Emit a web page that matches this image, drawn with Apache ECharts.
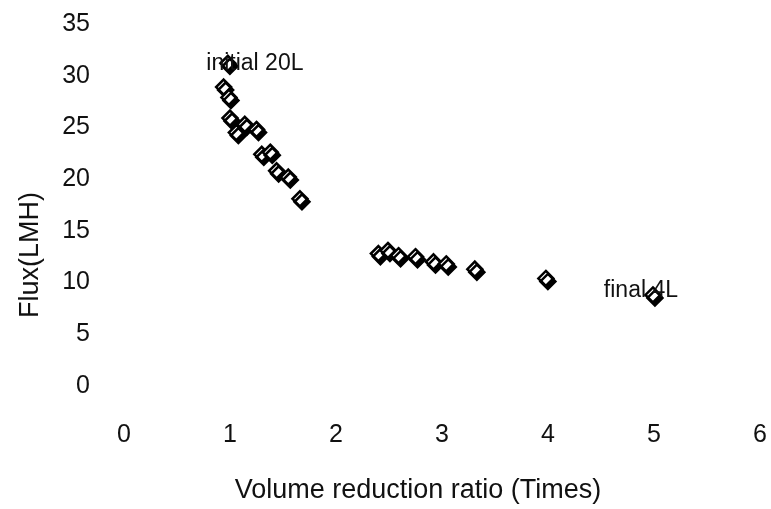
<!DOCTYPE html>
<html>
<head>
<meta charset="utf-8">
<script src="https://cdn.jsdelivr.net/npm/echarts@6/dist/echarts.min.js"></script>
<style>
  html, body { margin: 0; padding: 0; background: #fff; }
  #chart { width: 771px; height: 509px; }
</style>
</head>
<body>
<div id="chart"></div>
<script>
// volume reduction ratio (x) and flux (y)
const ratio = [0.98, 0.94, 0.99, 1.0, 1.06, 1.14, 1.25, 1.30, 1.38, 1.44, 1.55, 1.66,
  2.40, 2.49, 2.59, 2.75, 2.92, 3.04, 3.31, 3.98, 4.99];
const flux = [31.2, 28.9, 27.9, 25.9, 24.5, 25.3, 24.8, 22.4, 22.6, 20.8, 20.2, 18.1,
  12.8, 13.1, 12.6, 12.5, 12.0, 11.8, 11.3, 10.4, 8.8];
// point labels: index -> text
const pointNotes = { 0: "initial 20L", 20: "final 4L" };

const font = "Liberation Sans, Arial, sans-serif";

const data = ratio.map(function (x, i) {
  const item = { value: [x, flux[i]] };
  if (i === 0) {
    item.label = { show: true, formatter: pointNotes[0], position: "inside", offset: [27, 0] };
  } else if (i === 20) {
    item.label = { show: true, formatter: pointNotes[20], position: "inside", offset: [-12, -4] };
  }
  return item;
});

const chart = echarts.init(document.getElementById("chart"));
chart.setOption({
  animation: false,
  grid: { left: 124, right: 11, top: 24, bottom: 121 },
  xAxis: {
    type: "value",
    min: 0, max: 6, interval: 1,
    name: "Volume reduction ratio (Times)",
    nameLocation: "middle",
    nameGap: 91,
    nameTextStyle: { color: "#111", fontSize: 27, fontFamily: font, padding: [0, 48, 0, 0] },
    axisLine: { show: false },
    axisTick: { show: false },
    splitLine: { show: false },
    axisLabel: { color: "#111", fontSize: 25, fontFamily: font, margin: 37 }
  },
  yAxis: {
    type: "value",
    min: 0, max: 35, interval: 5,
    name: "Flux(LMH)",
    nameLocation: "middle",
    nameGap: 80,
    nameTextStyle: { color: "#111", fontSize: 27, fontFamily: font, padding: [0, 100, 0, 0] },
    axisLine: { show: false },
    axisTick: { show: false },
    splitLine: { show: false },
    axisLabel: { color: "#111", fontSize: 25, fontFamily: font, margin: 34 }
  },
  series: [{
    type: "scatter",
    symbol: "diamond",
    symbolSize: [15, 15],
    data: data,
    itemStyle: {
      color: "#fff",
      borderColor: "#000",
      borderWidth: 2.5,
      shadowColor: "#000",
      shadowBlur: 0,
      shadowOffsetX: 2,
      shadowOffsetY: 3,
      opacity: 1
    },
    label: { color: "#111", fontSize: 23, fontFamily: font },
    z: 2
  }]
});
</script>
</body>
</html>
